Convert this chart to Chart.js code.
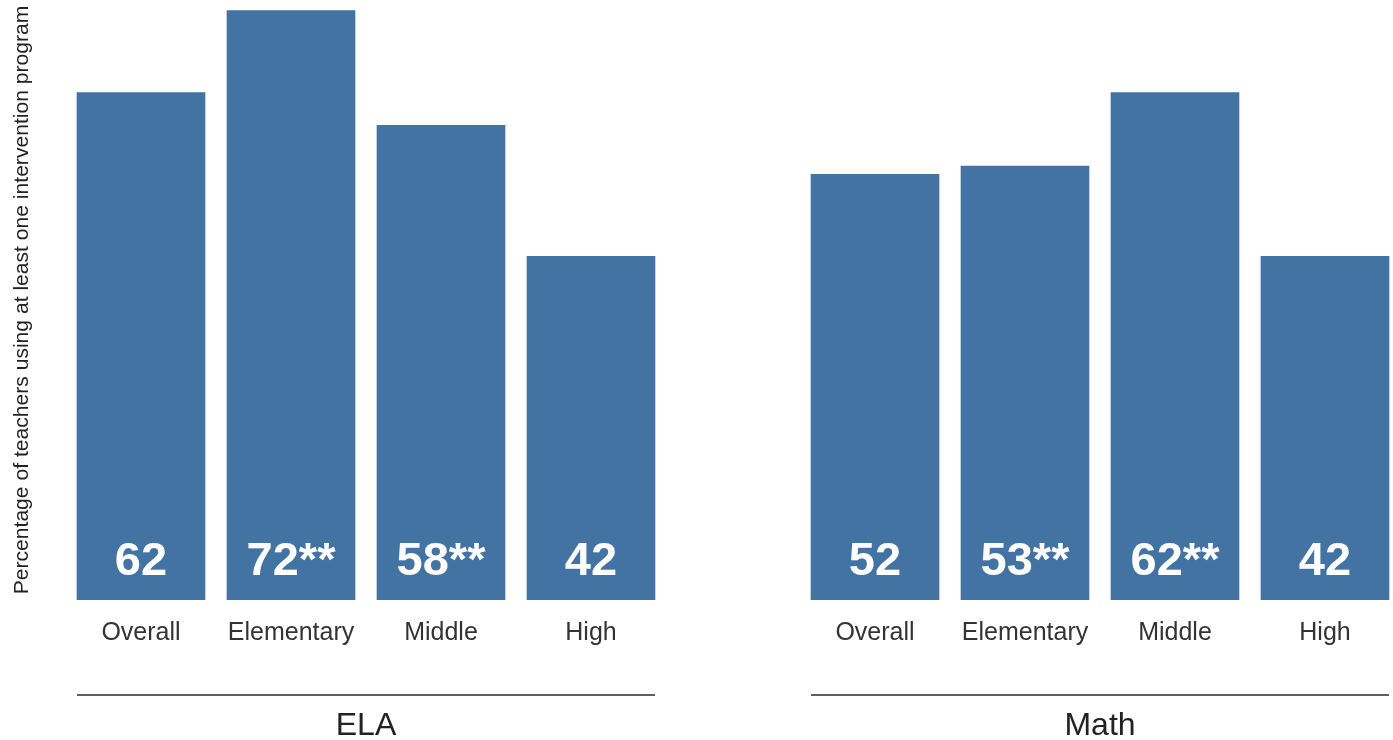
<html>
  <head>
    <meta charset="UTF-8">
    <title>Intervention programs</title>
    <style>
      html, body { margin: 0; padding: 0; background: #ffffff; overflow: hidden; }
      .wrap { position: absolute; top: 0; height: 740px; }
      #elaBox { left: 0; width: 666px; }
      #mathBox { left: 800px; width: 600px; }
    </style>
    <script src="https://cdn.jsdelivr.net/npm/chart.js"></script>
  </head>
  <body>
    <div class="wrap" id="elaBox"><canvas id="elaChart"></canvas></div>
    <div class="wrap" id="mathBox"><canvas id="mathChart"></canvas></div>
    <script>
    // data
    const levels = ['Overall', 'Elementary', 'Middle', 'High'];
    const elaValues = [62, 72, 58, 42];
    const elaLabels = ['62', '72**', '58**', '42'];
    const mathValues = [52, 53, 62, 42];
    const mathLabels = ['52', '53**', '62**', '42'];
    const yTitle = 'Percentage of teachers using at least one intervention program';

    const barColor = '#4373a3';
    const sans = '"Liberation Sans", Arial, sans-serif';

    // white numbers at the foot of each bar + rule under the group
    const barDecor = {
      id: 'barDecor',
      afterDatasetsDraw(chart, args, opts) {
        const ctx = chart.ctx;
        const bars = chart.getDatasetMeta(0).data;
        ctx.save();
        ctx.fillStyle = '#ffffff';
        ctx.font = 'bold 47px ' + sans;
        ctx.textAlign = 'center';
        ctx.textBaseline = 'alphabetic';
        bars.forEach((b, i) => {
          ctx.fillText(opts.labels[i], b.x, b.base - 25);
        });
        const first = bars[0], last = bars[bars.length - 1];
        ctx.strokeStyle = '#2a2a2a';
        ctx.lineWidth = 1.5;
        ctx.beginPath();
        ctx.moveTo(first.x - first.width / 2, 695);
        ctx.lineTo(last.x + last.width / 2, 695);
        ctx.stroke();
        ctx.restore();
      }
    };

    function makeChart(id, values, labels, group, showY) {
      return new Chart(document.getElementById(id), {
        type: 'bar',
        data: {
          labels: levels,
          datasets: [{
            data: values,
            backgroundColor: barColor,
            barThickness: 128
          }]
        },
        plugins: [barDecor],
        options: {
          responsive: true,
          maintainAspectRatio: false,
          animation: false,
          layout: { padding: 0 },
          plugins: {
            legend: { display: false },
            tooltip: { enabled: false },
            barDecor: { labels: labels }
          },
          scales: {
            x: {
              grid: { display: false },
              border: { display: false },
              ticks: {
                color: '#333333',
                padding: 10,
                maxRotation: 0,
                minRotation: 0,
                autoSkip: false,
                font: { family: sans, size: 25 }
              },
              title: {
                display: true,
                text: group,
                color: '#222222',
                padding: { top: 0, bottom: 1 },
                font: { family: sans, size: 32, lineHeight: 0.8 }
              },
              afterFit(s) { s.height = 140; }
            },
            y: {
              display: showY,
              min: 0,
              max: 73.3,
              grid: { display: false },
              border: { display: false },
              ticks: { display: false },
              title: {
                display: showY,
                text: yTitle,
                color: '#222222',
                padding: { top: 10, bottom: 0 },
                font: { family: sans, size: 21.1 }
              },
              afterFit(s) { s.width = showY ? 66 : 0; }
            }
          }
        }
      });
    }

    makeChart('elaChart', elaValues, elaLabels, 'ELA', true);
    makeChart('mathChart', mathValues, mathLabels, 'Math', false);
  </script>
  </body>
</html>
